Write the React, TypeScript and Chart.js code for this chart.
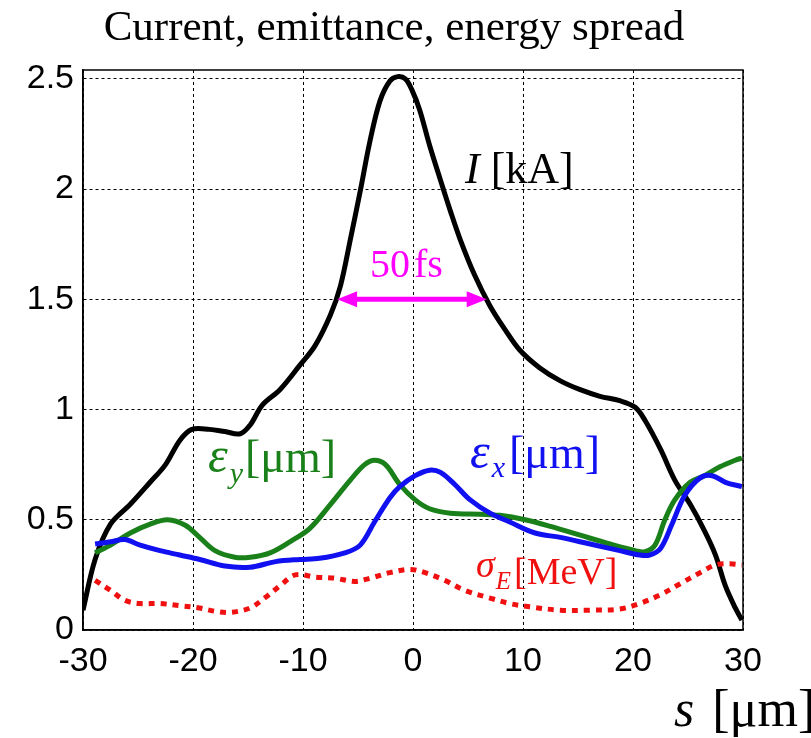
import React, { useEffect, useRef } from "react";
import { Chart, registerables } from "chart.js";

Chart.register(...registerables);

// Current I [kA]
const iX = [-30, -28.9, -27.5, -25.7, -23.9, -22.5, -21.2, -20.1, -18.5, -17.1, -15.7, -14.8, -13.7, -12.1, -10.3, -8.9, -7.5, -6.6, -5.7, -4.8, -3.9, -3.0, -2.1, -1.4, -0.7, -0.1, 0.6, 1.5, 2.5, 3.4, 4.3, 5.6, 7.0, 8.4, 9.7, 11.5, 13.4, 15.2, 17.0, 18.8, 20.2, 21.1, 22.5, 23.8, 25.2, 26.5, 27.5, 28.4, 29.3, 29.9];
const iY = [0.09, 0.32, 0.48, 0.57, 0.67, 0.75, 0.86, 0.91, 0.91, 0.9, 0.89, 0.93, 1.02, 1.09, 1.2, 1.29, 1.43, 1.56, 1.77, 1.99, 2.22, 2.4, 2.49, 2.51, 2.5, 2.45, 2.36, 2.2, 2.04, 1.9, 1.77, 1.61, 1.47, 1.36, 1.27, 1.19, 1.13, 1.09, 1.06, 1.04, 1.01, 0.95, 0.82, 0.68, 0.57, 0.45, 0.34, 0.2, 0.1, 0.045];

// Emittance eps_y [um]
const eyX = [-28.9, -27.5, -25.7, -23.9, -22.3, -20.7, -19.4, -18.0, -16.2, -14.8, -13.0, -11.2, -9.4, -7.5, -5.7, -4.4, -3.5, -2.5, -1.2, 0.2, 1.5, 3.4, 6.1, 7.9, 10.2, 12.5, 15.2, 17.9, 20.2, 21.1, 22.0, 22.9, 23.8, 25.2, 26.5, 27.9, 29.3, 29.9];
const eyY = [0.35, 0.385, 0.44, 0.48, 0.5, 0.475, 0.42, 0.36, 0.33, 0.33, 0.35, 0.4, 0.46, 0.57, 0.68, 0.75, 0.77, 0.75, 0.66, 0.59, 0.55, 0.53, 0.525, 0.52, 0.5, 0.47, 0.43, 0.39, 0.36, 0.355, 0.385, 0.5, 0.59, 0.67, 0.7, 0.74, 0.77, 0.78];

// Emittance eps_x [um]
const exX = [-28.9, -27.5, -26.2, -24.8, -23.0, -21.2, -19.4, -17.1, -14.8, -12.5, -10.3, -8.5, -6.2, -4.8, -3.5, -2.1, -1.2, 0.2, 1.5, 2.5, 3.8, 5.2, 7.0, 8.8, 11.1, 13.4, 16.1, 18.8, 20.6, 21.5, 22.5, 23.5, 24.7, 26.1, 27.2, 28.4, 29.9];
const exY = [0.39, 0.4, 0.41, 0.385, 0.36, 0.34, 0.32, 0.29, 0.285, 0.31, 0.32, 0.325, 0.35, 0.385, 0.49, 0.6, 0.65, 0.7, 0.725, 0.715, 0.66, 0.59, 0.53, 0.49, 0.44, 0.42, 0.39, 0.36, 0.34, 0.34, 0.37, 0.475, 0.61, 0.69, 0.7, 0.67, 0.65];

// Energy spread sigma_E [MeV]
const sX = [-28.9, -27.5, -26.2, -24.8, -23.0, -21.2, -19.4, -18.0, -16.6, -14.8, -13.5, -12.1, -10.7, -8.9, -7.1, -5.3, -3.9, -2.1, -0.3, 1.1, 2.9, 4.7, 7.0, 8.8, 10.6, 13.4, 16.1, 18.8, 20.6, 22.5, 24.3, 26.1, 27.5, 28.8, 29.9];
const sY = [0.225, 0.18, 0.135, 0.12, 0.12, 0.11, 0.1, 0.085, 0.08, 0.1, 0.145, 0.2, 0.25, 0.24, 0.235, 0.22, 0.235, 0.26, 0.275, 0.26, 0.225, 0.18, 0.145, 0.12, 0.105, 0.09, 0.09, 0.095, 0.12, 0.16, 0.21, 0.26, 0.295, 0.3, 0.295];

// 50 fs FWHM arrow
const arrowX = [-6.9, 6.7];
const arrowY = 1.5;

const xTicks = [-30, -20, -10, 0, 10, 20, 30];
const yTicks = [0, 0.5, 1, 1.5, 2, 2.5];

const BLACK = "#000000";
const GREEN = "#1a801a";
const BLUE = "#1010f0";
const RED = "#f01010";
const MAGENTA = "#ff00ff";

const pts = (xs: number[], ys: number[]) => xs.map((x, i) => ({ x, y: ys[i] }));

const SERIF = "'Liberation Serif', 'Times New Roman', serif";
const SANS = "'Liberation Sans', Arial, sans-serif";

type Part = { t: string; font: string; dy?: number; gap?: number };
function rich(ctx: CanvasRenderingContext2D, x: number, y: number, color: string, parts: Part[]) {
  let cx = x;
  ctx.fillStyle = color;
  ctx.textAlign = "left";
  ctx.textBaseline = "alphabetic";
  for (const p of parts) {
    ctx.font = p.font;
    ctx.fillText(p.t, cx, y + (p.dy || 0));
    cx += ctx.measureText(p.t).width + (p.gap || 0);
  }
}

const annot = {
  id: "annot",
  afterDraw(chart: any) {
    const ctx: CanvasRenderingContext2D = chart.ctx;
    const { left, right, top, bottom } = chart.chartArea;
    ctx.save();
    ctx.strokeStyle = BLACK;
    ctx.lineWidth = 1.5;
    ctx.setLineDash([]);
    ctx.strokeRect(left, top, right - left, bottom - top);

    // arrow
    const xs = chart.scales.x;
    const ys = chart.scales.y;
    const x1 = xs.getPixelForValue(arrowX[0]);
    const x2 = xs.getPixelForValue(arrowX[1]);
    const ay = ys.getPixelForValue(arrowY);
    const hl = 20;
    const hw = 8;
    ctx.strokeStyle = MAGENTA;
    ctx.fillStyle = MAGENTA;
    ctx.lineWidth = 5;
    ctx.beginPath();
    ctx.moveTo(x1 + hl - 2, ay);
    ctx.lineTo(x2 - hl + 2, ay);
    ctx.stroke();
    ctx.beginPath();
    ctx.moveTo(x1, ay);
    ctx.lineTo(x1 + hl, ay - hw);
    ctx.lineTo(x1 + hl, ay + hw);
    ctx.closePath();
    ctx.fill();
    ctx.beginPath();
    ctx.moveTo(x2, ay);
    ctx.lineTo(x2 - hl, ay - hw);
    ctx.lineTo(x2 - hl, ay + hw);
    ctx.closePath();
    ctx.fill();

    // title
    ctx.fillStyle = BLACK;
    ctx.font = `43px ${SERIF}`;
    ctx.textAlign = "center";
    ctx.textBaseline = "alphabetic";
    ctx.fillText("Current, emittance, energy spread", 394, 40);

    rich(ctx, 465, 183, BLACK, [
      { t: "I", font: `italic 44px ${SERIF}` },
      { t: " [kA]", font: `44px ${SERIF}` },
    ]);
    rich(ctx, 370, 277, MAGENTA, [
      { t: "50", font: `40px ${SERIF}`, gap: 4 },
      { t: "fs", font: `40px ${SERIF}` },
    ]);
    rich(ctx, 208, 472, GREEN, [
      { t: "ε", font: `italic 50px ${SERIF}`, gap: 2 },
      { t: "y", font: `italic 30px ${SERIF}`, dy: 11, gap: 2 },
      { t: "[μm]", font: `46px ${SERIF}` },
    ]);
    rich(ctx, 470, 468, BLUE, [
      { t: "ε", font: `italic 50px ${SERIF}`, gap: 2 },
      { t: "x", font: `italic 30px ${SERIF}`, dy: 9, gap: 4 },
      { t: "[μm]", font: `46px ${SERIF}` },
    ]);
    rich(ctx, 476, 584, RED, [
      { t: "σ", font: `italic 38px ${SERIF}`, dy: -7, gap: 1 },
      { t: "E", font: `italic 25px ${SERIF}`, dy: 5, gap: 3 },
      { t: "[MeV]", font: `38px ${SERIF}` },
    ]);
    rich(ctx, 674, 726, BLACK, [
      { t: "s", font: `italic 52px ${SERIF}`, gap: 18 },
      { t: "[μm]", font: `52px ${SERIF}` },
    ]);
    ctx.restore();
  },
};

export default function App() {
  const ref = useRef<HTMLCanvasElement | null>(null);
  useEffect(() => {
    document.body.style.margin = "0";
    const canvas = ref.current!;
    const line = (data: any, color: string, width: number, dash: number[] = []) => ({
      data,
      borderColor: color,
      borderWidth: width,
      borderDash: dash,
      pointRadius: 0,
      tension: 0.35,
      fill: false,
    });
    const chart = new Chart(canvas, {
      type: "line",
      data: {
        datasets: [
          line(pts(sX, sY), RED, 5, [6, 6]),
          line(pts(exX, exY), BLUE, 5),
          line(pts(eyX, eyY), GREEN, 5),
          line(pts(iX, iY), BLACK, 5),
        ] as any,
      },
      options: {
        responsive: false,
        animation: false,
        devicePixelRatio: 1,
        layout: { padding: { left: 0, top: 70, right: 68, bottom: 0 } },
        plugins: { legend: { display: false }, tooltip: { enabled: false } },
        scales: {
          x: {
            type: "linear",
            min: -30,
            max: 30,
            afterBuildTicks: (s: any) => {
              s.ticks = xTicks.map((v) => ({ value: v }));
            },
            afterFit: (s: any) => {
              s.height = 108;
            },
            ticks: { color: BLACK, font: { family: SANS, size: 34 }, padding: 11, maxRotation: 0, callback: (v: any) => String(v) },
            grid: { color: BLACK, lineWidth: 1, drawTicks: false },
            border: { display: true, color: BLACK, width: 1.5, dash: [3, 3] },
          },
          y: {
            type: "linear",
            min: 0,
            max: 2.54,
            afterBuildTicks: (s: any) => {
              s.ticks = yTicks.map((v) => ({ value: v }));
            },
            afterFit: (s: any) => {
              s.width = 83;
            },
            ticks: { color: BLACK, font: { family: SANS, size: 34 }, padding: 9, callback: (v: any) => String(v) },
            grid: { color: BLACK, lineWidth: 1, drawTicks: false },
            border: { display: true, color: BLACK, width: 1.5, dash: [3, 3] },
          },
        },
      },
      plugins: [annot],
    } as any);
    return () => chart.destroy();
  }, []);
  return <canvas ref={ref} width={811} height={738} style={{ display: "block" }} />;
}
